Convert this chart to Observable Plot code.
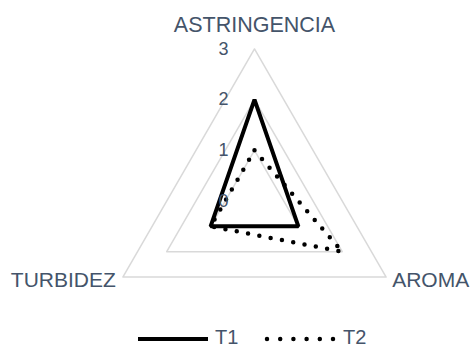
<!DOCTYPE html>
<html>
<head>
<meta charset="utf-8">
<script src="https://cdn.jsdelivr.net/npm/d3@7"></script>
<script src="https://cdn.jsdelivr.net/npm/@observablehq/plot@0.6"></script>
<style>
  html, body { margin: 0; padding: 0; background: #fff; }
  #wrap { width: 471px; height: 347px; position: relative; overflow: hidden; }
  #legend { position: absolute; left: 0; top: 308px; width: 471px; height: 39px; }
  text { font-family: "Liberation Sans", Arial, sans-serif; }
</style>
</head>
<body>
<div id="wrap">
  <div id="chart"></div>
  <svg id="legend" width="471" height="39"></svg>
</div>
<script>
// ---- data ----
const categories = ["ASTRINGENCIA", "AROMA", "TURBIDEZ"];
const seriesNames = ["T1", "T2"];
const t1 = [2, 1, 1];
const t2 = [1, 2, 1];
const tickValues = [0, 1, 2, 3];
const maxValue = 3;

// ---- helpers ----
const n = categories.length;
const angleOf = i => (90 - i * 360 / n) * Math.PI / 180;
const px = (i, v) => v * Math.cos(angleOf(i));
const py = (i, v) => v * Math.sin(angleOf(i));

const seriesRows = [];
[t1, t2].forEach((vals, s) => vals.forEach((v, i) => seriesRows.push({series: seriesNames[s], i, v})));

const gridRows = [];
tickValues.filter(t => t > 0).forEach(t => categories.forEach((c, i) => gridRows.push({level: t, i, v: t})));

const catRows = categories.map((c, i) => ({c, i, v: maxValue}));

const textColor = "#44546A";
const font = "Liberation Sans, Arial, sans-serif";

const chart = Plot.plot({
  width: 471,
  height: 310,
  margin: 0,
  x: {domain: [-5.013, 4.283], axis: null},
  y: {domain: [-2.161, 3.957], axis: null},
  style: {fontFamily: font, background: "white"},
  marks: [
    Plot.line(gridRows, {
      x: d => px(d.i, d.v), y: d => py(d.i, d.v), z: "level",
      curve: "linear-closed", stroke: "#D9D9D9", strokeWidth: 1.5
    }),
    Plot.line(seriesRows.filter(d => d.series === "T1"), {
      x: d => px(d.i, d.v), y: d => py(d.i, d.v),
      curve: "linear-closed", stroke: "black", strokeWidth: 4, strokeLinejoin: "miter"
    }),
    Plot.line(seriesRows.filter(d => d.series === "T2"), {
      x: d => px(d.i, d.v), y: d => py(d.i, d.v),
      curve: "linear-closed", stroke: "black", strokeWidth: 4.5,
      strokeDasharray: "0 11.5", strokeLinecap: "round"
    }),
    Plot.text(tickValues, {
      x: 0, y: d => d, text: d => String(d),
      textAnchor: "end", dx: -26, fontSize: 18, fill: textColor
    }),
    Plot.text(catRows.filter(d => d.i === 0), {
      x: d => px(d.i, d.v), y: d => py(d.i, d.v), text: "c",
      dy: -24, fontSize: 21.5, fill: textColor
    }),
    Plot.text(catRows.filter(d => d.i === 1), {
      x: d => px(d.i, d.v), y: d => py(d.i, d.v), text: "c",
      textAnchor: "start", dx: 6, dy: 3.5, fontSize: 21, fill: textColor
    }),
    Plot.text(catRows.filter(d => d.i === 2), {
      x: d => px(d.i, d.v), y: d => py(d.i, d.v), text: "c",
      textAnchor: "end", dx: -7, dy: 3.5, fontSize: 21, fill: textColor
    })
  ]
});
document.getElementById("chart").appendChild(chart);

// ---- legend ----
const leg = d3.select("#legend");
const ly = 31;
const items = [
  {name: seriesNames[0], x0: 138, x1: 208, dash: null},
  {name: seriesNames[1], x0: 267, x1: 333, dash: "0 13.2"}
];
items.forEach(it => {
  const l = leg.append("line")
    .attr("x1", it.x0).attr("x2", it.x1).attr("y1", ly).attr("y2", ly)
    .attr("stroke", "black");
  if (it.dash) {
    l.attr("stroke-width", 4.5).attr("stroke-dasharray", it.dash).attr("stroke-linecap", "round");
  } else {
    l.attr("stroke-width", 4);
  }
  leg.append("text")
    .attr("x", it.x1 + (it.dash ? 10 : 7)).attr("y", ly - 2)
    .attr("dy", "0.35em")
    .attr("font-size", 20)
    .attr("fill", textColor)
    .text(it.name);
});
</script>
</body>
</html>
